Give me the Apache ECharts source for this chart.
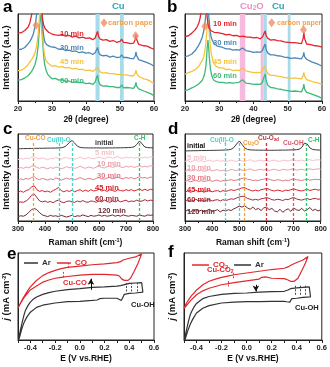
<!DOCTYPE html>
<html><head><meta charset="utf-8">
<script src="https://cdn.jsdelivr.net/npm/echarts@6/dist/echarts.min.js"></script>
<style>html,body{margin:0;padding:0;background:#fff}#c{width:330px;height:367px}</style>
</head><body><div id="c"></div>
<script>
const F = 'Arial, "Liberation Sans", Helvetica, sans-serif';

// ---------- Panel a: XRD (2theta, intensity a.u.) ----------
const xrdA_10 = [[20,78],[20.5,79.5],[21,78.5],[21.5,80],[22,81],[22.5,82.5],[23,85],[23.5,90],[24,99],[24.4,115],[24.8,150],[26.6,150],[26.9,112],[27.2,95],[27.5,88],[28,83],[28.5,81.5],[29,79],[29.5,79.5],[30,77],[30.5,78],[31,76],[31.5,77],[32,75.5],[33,76.5],[34,74.5],[35,75.5],[36,73.5],[37,74.5],[38,72.5],[39,73.5],[40,72],[41,72.5],[42,70.5],[42.7,72.5],[43.1,77],[43.4,80],[43.7,74],[44.2,71],[45,70],[46,70.5],[47,68.5],[48,69.5],[49,67.5],[50,68.5],[50.5,71],[51,67.5],[52,67],[53,66],[54,66.5],[54.5,71],[54.7,76],[54.9,71],[55.5,65],[56,65.5],[57,63.5],[58,63],[59,61],[60,59.5]];
const xrdA_30 = [[20,59],[20.5,60],[21,59.5],[21.5,61],[22,61.5],[22.5,63.5],[23,66],[23.5,68.5],[24,72],[24.5,77],[24.8,82],[25.2,91],[25.5,100],[25.8,130],[26.8,130],[27.1,95],[27.4,80],[27.7,71],[28,67],[28.5,64.5],[29,63],[29.5,62.5],[30,61],[31,61.5],[32,59.5],[33,60],[34,58],[35,58.5],[36,57],[37,57.5],[38,55.5],[39,56.5],[40,55],[41,55.5],[42,53.5],[42.7,55.5],[43.1,59],[43.4,61.5],[43.7,56],[44.2,53],[45,52],[46,52.5],[47,50.5],[48,51.5],[49,50],[50,50.5],[50.5,53],[51,50],[52,50],[53,49],[54,48.5],[54.5,52],[54.7,56.5],[54.9,52],[55.5,47.5],[56,47.5],[57,45.5],[58,44],[59,42.5],[60,40]];
const xrdA_45 = [[20,35],[20.5,36],[21,35.5],[21.5,37],[22,38],[22.5,40],[23,42],[23.5,44],[24,47.5],[24.5,51],[25,55],[25.4,62],[25.8,72],[26.1,85],[26.4,100],[26.6,115],[26.9,100],[27.2,78],[27.5,62],[27.8,53],[28.2,47],[28.7,44],[29.2,42],[30,40],[31,40.5],[32,39],[33,39.5],[34,38],[35,38.5],[36,37],[37,37.5],[38,36],[39,36.5],[40,35],[41,35.5],[42,34],[42.7,36],[43.1,39],[43.4,40.5],[43.7,36],[44.2,33.5],[45,32],[46,32.5],[47,31.5],[48,31.5],[49,30.5],[50,30.5],[50.5,32.5],[51,30],[52,30],[53,29],[54,29],[54.5,32],[54.7,35.5],[54.9,31.5],[55.5,28.5],[56,28],[57,25.5],[58,24.5],[59,22.5],[60,20]];
const xrdA_60 = [[20,24],[20.5,25],[21,24.5],[21.5,26],[22,26.5],[22.5,28],[23,29],[23.5,31],[24,34],[24.5,37.5],[25,42],[25.5,50],[25.9,62],[26.2,78],[26.5,92],[26.7,101],[26.9,92],[27.2,70],[27.5,54],[27.8,43],[28.2,36],[28.7,31],[29.2,28.5],[30,25.5],[31,26],[32,24],[33,24.5],[34,22.5],[35,23],[36,21.5],[37,22],[38,21],[39,21.5],[40,20],[41,20.5],[42,19],[42.7,22],[43.1,27],[43.4,29.5],[43.7,22],[44.2,18.5],[45,17],[46,17.5],[47,16.5],[48,16.5],[49,15.5],[50,15.5],[50.5,18.5],[51,15],[52,15.5],[53,15],[54,14.5],[54.5,18],[54.7,21.5],[54.9,17],[55.5,14],[56,13.5],[57,11.5],[58,10],[59,8.5],[60,6]];
const bandsCuA = [[42.8,44.0],[50.0,51.1]];
const carbonMarksA = [[25.3,87],[54.6,75],[45.3,90]];

// ---------- Panel b: XRD ----------
const xrdB_10 = [[20,74],[20.5,75.5],[21,75],[21.5,76.5],[22,78],[22.5,79.5],[23,82],[23.5,85],[24,89],[24.4,95],[24.7,103],[25,130],[26.1,130],[26.4,100],[26.7,88],[27,84],[27.5,81],[28,79.5],[28.5,79],[29,78],[29.5,78.5],[30,77],[31,77.5],[32,76],[33,76.5],[34,75],[35,75.5],[36,74],[37,74.5],[38,73.5],[39,73.5],[40,72.5],[41,73],[42,71.5],[42.7,74],[43.1,78],[43.4,80.5],[43.7,75],[44.2,72],[45,70],[46,70.5],[47,69.5],[48,69],[49,68],[50,67.5],[50.5,69.5],[51,67],[52,67],[53,66.5],[54,66],[54.5,72],[54.7,79],[54.9,72],[55.5,65.5],[56,65],[57,64.5],[58,63.5],[59,63],[60,62]];
const xrdB_30 = [[20,51],[20.5,52],[21,52],[21.5,53.5],[22,54],[22.5,56],[23,58],[23.5,61],[24,64],[24.5,68],[25,73],[25.4,79],[25.7,86],[26,96],[26.2,102],[26.5,106],[26.8,102],[27,95],[27.3,82],[27.6,74],[28,69.5],[28.5,66],[29,64],[29.5,63],[30,62],[31,61.5],[32,60],[33,60],[34,58.5],[35,59],[35.8,58.5],[36.3,60.5],[36.8,61],[37.3,60],[37.8,58],[39,57],[40,56],[41,56.5],[42,56],[42.6,58],[43.1,63],[43.4,65.5],[43.7,59],[44.2,55],[45,53],[46,53],[47,52],[48,51.5],[49,50.5],[50,50],[50.5,51.5],[51,49],[52,49.5],[53,49],[54,48.5],[54.5,52],[54.7,56],[54.9,51],[55.5,48],[56,47.5],[57,45],[58,43.5],[59,42],[60,40]];
const xrdB_45 = [[20,31],[20.5,32],[21,32.5],[21.5,33],[22,34],[22.5,35],[23,36],[23.5,38],[24,40],[24.5,43],[25,46],[25.5,51],[25.8,58],[26.1,67],[26.3,77],[26.5,88],[26.7,95],[26.9,88],[27.1,77],[27.4,63],[27.7,54],[28,49],[28.3,44],[28.7,42],[29,40],[29.5,39],[30,38],[31,38],[32,36],[33,36.5],[34,35],[35,35.5],[35.8,35],[36.3,37],[36.8,38],[37.3,37],[37.8,34.5],[39,33.5],[40,32.5],[41,33],[42,32.5],[42.6,35],[43.1,40],[43.4,42],[43.7,36],[44.2,31.5],[45,29.5],[46,29.5],[47,28.5],[48,28],[49,27],[50,26.5],[50.5,28],[51,26],[52,26.5],[53,26],[54,25.5],[54.5,29],[54.7,33],[54.9,28.5],[55.5,24.5],[56,24],[57,22.5],[58,21.5],[59,20.5],[60,19]];
const xrdB_60 = [[20,12],[20.5,13],[21,13],[21.5,14],[22,15],[22.5,16],[23,17],[23.5,18],[24,19.5],[24.5,21.5],[25,23.5],[25.4,27],[25.8,32.5],[26.1,40],[26.3,50],[26.5,62],[26.7,70],[26.9,62],[27.1,50],[27.4,38],[27.7,31],[28,27],[28.3,24.5],[28.7,23.5],[29,22.5],[29.5,22],[30,21.5],[31,21.5],[32,20.5],[33,21],[34,20.5],[35,21],[35.8,21.5],[36.3,23.5],[36.8,24.5],[37.3,23],[37.8,20.5],[39,20],[40,19],[41,19.5],[42,19],[42.6,21.5],[43.1,28],[43.4,31],[43.7,23],[44.2,18],[45,15.5],[46,15],[47,14],[48,13.5],[49,12.5],[50,12],[50.5,14],[51,11],[52,11.5],[53,11],[54,10.5],[54.5,15],[54.7,19.5],[54.9,14],[55.5,10],[56,9.5],[57,8],[58,6.5],[59,5],[60,3]];
const bandsCu2OB = [[36.0,37.6],[42.1,42.9]];
const bandsCuB = [[42.9,43.9],[50.0,50.8]];
const carbonMarksB = [[25.8,86],[54.6,82],[45.3,90]];

// ---------- Panels c, d: Raman ----------
const ramanX = [300,310,320,330,340,350,360,370,380,390,400,410,420,430,440,450,460,470,480,490,500,510,520,530,540,550,560,570,580,590,600,610,620,630,640,650,660,670,680,690,700,710,720,730,740,750,760,770,780,790,800];
const ramanC_init = [83,83.1,83.2,83.3,83.3,83.4,83.5,83.5,83.6,83.6,83.7,83.7,83.8,83.8,83.9,84,84.2,84.9,86.8,90.2,92.5,89.5,86,84.6,84.2,84.1,84,84,84,84,84,83.9,83.9,84,84,84,84.1,84.1,84.2,84.2,84.3,84.4,84.6,85.2,88,92,88.5,85,84.4,84.2,84.1];
const ramanC_5 = [70.5,72,71,72.5,71.5,73.5,74,72,71.5,72.5,71.5,70.5,72,71.5,73,72,71,72.5,73,71.5,72.5,71,72,73.5,72,71.5,73,72,71.5,72.5,73.5,72.5,71.5,73,73.5,72,73,74,72.5,72,73.5,72.5,73.5,72,73,74,72.5,73.5,72.5,74,73.5];
const ramanC_10 = [60,61.5,60.5,62,61,63,63.5,61.5,60.5,62,61,60,61.5,60.5,62,61.5,60,61,62.5,61,62,60.5,61.5,63,61.5,60.5,62,61.5,60.5,62,63,61.5,61,62.5,63,61.5,62.5,63.5,62,61.5,63,62,63,61.5,62.5,63.5,62,63,62,63.5,63];
const ramanC_30 = [47,48.5,47.5,49,48,50,51,48.5,47.5,49,48,47,48.5,47.5,49.5,48.5,47,48,49.5,48,49,47.5,48.5,50,48.5,47.5,49,48.5,47.5,49,50,48.5,48,49.5,50,48.5,49.5,50.5,49,48.5,50,49,50,48.5,49.5,51,49.5,50,49,50.5,50];
const ramanC_45 = [33,34.5,33,35,36,39,40.5,36,34,35,33.5,34.5,33,35,36.5,38.5,35,33.5,35,34,35.5,33.5,35,36,34,35.5,34,36,34.5,35,36.5,34.5,35.5,34,36,35,34,36,35,34.5,36,35,36,34.5,35.5,37,35,36.5,35,36.5,36];
const ramanC_60 = [21,22,21.5,23,25.5,29.5,31,27,23,22,23,21.5,22.5,21,23,24,22,21,22.5,23,22,21.5,23,22,23.5,22,21.5,23,22.5,21.5,23,22,24,22.5,21.5,23,22,23.5,22,23,24,22,23,22.5,24,22.5,23,24.5,23,24,23.5];
const ramanC_120 = [5,6,5.5,7,10,13,14.5,13,9.5,7,6,5,6.5,5.5,6,5,6.5,5.5,4.5,5.5,6.5,5,6,5.5,7,6,5,6.5,5.5,6,7,5.5,6.5,5.5,6,7,5.5,6.5,5.5,7,6,5.5,6.5,6,5.5,7,6,5.5,7,6.5,7];
const ramanLinesC = [[358,91.5],[452,89.5],[502,89.5],[748,91.5]];

const ramanD_init = [80.5,80.6,80.7,80.8,80.8,80.9,81,81,81.1,81.1,81.2,81.2,81.3,81.4,81.5,81.6,81.8,82.5,84.5,88.5,92,88,84,82.3,81.8,81.6,81.5,81.5,81.4,81.4,81.4,81.3,81.3,81.3,81.4,81.4,81.5,81.5,81.6,81.7,81.8,82,82.4,84.5,89.5,88.5,84,82.3,81.8,81.6,81.5];
const ramanD_5 = [68.5,69.5,68,69,70,68.5,69.5,68,69,70,68.5,69,70,68.5,69.5,68,69,70,69,68.5,70,69,68.5,69.5,70.5,69,68.5,69.5,70,69,70,68.5,69.5,70,69,68.5,70,69.5,69,70,70.5,69,69.5,70,69,70,70.5,69.5,70,70.5,70];
const ramanD_10 = [57,58.5,57.5,58,59,57.5,58.5,57,58,59,57.5,58.5,59,57.5,58.5,57,58,59.5,58.5,58,59.5,58.5,58,59,60,58.5,58,59,59.5,58.5,59.5,58,59,59.5,58.5,58,59.5,59,58.5,59.5,60,58.5,59,59.5,58.5,59.5,60,59,59.5,60,59.5];
const ramanD_30 = [45.5,46.5,45,46,47,45.5,46.5,45.5,46,47,45.5,46.5,47,45.5,46.5,46,47,47.5,46.5,47,48,49,49.5,48,47.5,46.5,47,46.5,47.5,48,49,48,47,46.5,47.5,47,46,47,46.5,47.5,48.5,47.5,47,46.5,47.5,48,47,47.5,48,47.5,48];
const ramanD_45 = [33,34.5,33,34,35.5,33.5,34.5,33,34.5,35,33.5,34.5,35,33.5,35,34,35,36,35,36,37,38,38.5,36.5,35.5,34.5,35.5,34.5,36,36.5,37.5,36.5,35,34.5,35.5,35,34,35.5,35,36,37,36,35,34.5,35.5,36.5,35,36,36.5,35.5,36];
const ramanD_60 = [22.5,24,22.5,23.5,25,23,24,22.5,24,24.5,23,24,24.5,23,24.5,23.5,24.5,25.5,25,26.5,27.5,28.5,28,26,25,24,25,24,25.5,26,27,26,24.5,24,25,24.5,23.5,25,24.5,26,27,25.5,24.5,24,25,26,24.5,25.5,26,25,25.5];
const ramanD_120 = [11,12.5,10.5,12,13,11,12.5,10.5,12,13.5,11,12,13,10.5,12.5,11.5,13,12,14,15.5,17,16,17.5,15,13.5,16,13,14.5,12,15,16,13,14.5,11.5,10.5,13.5,10,12.5,14,11,15,13,12,14.5,11.5,13,15.5,12,13.5,11.5,13];
const ramanLinesD = [[450,91.5],[498,91.5],[520,86],[600,90],[700,86],[745,91.5]];

// ---------- Panels e, f: CV (E vs RHE, j a.u.) ----------
const cvE_Ar = [[-0.495,0],[-0.49,5],[-0.48,11.5],[-0.47,18],[-0.46,24],[-0.45,29.5],[-0.44,34],[-0.42,39.5],[-0.4,43.5],[-0.38,46.5],[-0.35,49.5],[-0.3,52.5],[-0.25,54.5],[-0.2,56],[-0.1,58],[0,59],[0.1,60.5],[0.2,61],[0.3,62],[0.33,62.5],[0.34,64.5],[0.4,65],[0.45,65.5],[0.5,66],[0.51,65],[0.51,55],[0.45,54],[0.4,53.5],[0.36,52.5],[0.345,48],[0.335,45.5],[0.32,47],[0.3,48],[0.2,48],[0.16,47.5],[0.14,46],[0.1,45.5],[0,44.5],[-0.1,44],[-0.2,42.5],[-0.3,40],[-0.35,37.5],[-0.4,32],[-0.43,26],[-0.45,20.5],[-0.47,12.5],[-0.48,7],[-0.49,2],[-0.495,0]];
const cvE_CO = [[-0.5,36.5],[-0.48,42.5],[-0.46,48],[-0.44,52.5],[-0.42,57],[-0.4,61],[-0.37,65.5],[-0.35,68.5],[-0.3,74],[-0.25,77.5],[-0.2,80],[-0.15,82],[-0.1,83.5],[0,85],[0.1,86.5],[0.2,87.5],[0.3,89],[0.33,90],[0.35,92],[0.4,94],[0.45,95.5],[0.5,99],[0.47,88],[0.44,79],[0.41,71],[0.39,68.5],[0.36,68.5],[0.34,70],[0.32,73.5],[0.3,74.5],[0.2,75.5],[0.1,75.5],[0,74.5],[-0.1,73],[-0.15,72],[-0.2,71],[-0.25,69],[-0.3,66.5],[-0.35,62],[-0.4,57.5],[-0.45,49],[-0.48,42],[-0.5,36.5]];
const cvF_CO2 = [[-0.5,36.5],[-0.48,42.5],[-0.46,47],[-0.44,51],[-0.42,54],[-0.4,57.5],[-0.37,61],[-0.35,63.5],[-0.3,67.5],[-0.25,70],[-0.2,72],[-0.15,73.5],[-0.1,75],[0,77],[0.1,79],[0.2,81],[0.3,82.5],[0.33,84],[0.36,86.5],[0.4,89],[0.45,92],[0.49,96],[0.5,97.5],[0.47,88.5],[0.44,79.5],[0.41,71],[0.38,67.5],[0.35,67.5],[0.33,69],[0.3,70.5],[0.2,71],[0.15,72.5],[0.12,72],[0.1,70],[0,68],[-0.1,66],[-0.2,63.5],[-0.3,59.5],[-0.35,56.5],[-0.4,52],[-0.45,45],[-0.5,36]];
const cvF_Ar = [[-0.495,0],[-0.49,5],[-0.48,11.5],[-0.47,18],[-0.46,24],[-0.45,29],[-0.44,32.5],[-0.42,38],[-0.4,42],[-0.37,45.5],[-0.35,47.5],[-0.3,50],[-0.2,52.5],[-0.1,53.5],[0,54],[0.1,55],[0.2,55.5],[0.3,56],[0.33,57.5],[0.35,59],[0.4,60],[0.45,60.5],[0.5,61],[0.51,60],[0.51,49.5],[0.45,49],[0.4,48],[0.36,47.5],[0.345,43.5],[0.335,42.5],[0.32,44],[0.3,44.5],[0.2,44.5],[0.1,44],[0,44],[-0.1,43.5],[-0.2,42.5],[-0.3,39.5],[-0.35,36.5],[-0.4,31],[-0.43,24],[-0.45,18],[-0.47,10.5],[-0.48,6],[-0.49,1],[-0.495,0]];
const peakMarksE_red = [[-0.13,72,79.6],[-0.09,82.7,88.5]];
const peakMarksE_blk = [[0.375,55.8,65.4],[0.42,55.8,65.4],[0.465,55.8,65.4]];
const arrowE = [0.09,57.7,70.5];
const peakMarksF_red = [[-0.146,61.5,69],[-0.106,71,77]];
const peakMarksF_blk = [[0.386,52,63.5],[0.425,52,63.5],[0.465,52,63.5]];
const arrowF = [0.074,63.5,55.8];

// ---------- styling ----------
const C = {red:'#e3262e', blue:'#4d87b5', yellow:'#f6c33d', green:'#3dba7a', teal:'#2fa8b2', pink:'#ef8cc3',
  orange:'#f0a040', cyan:'#3fd6cc', chg:'#2ec76a', dark:'#3a3a3a',
  s5:'#f4c3c9', s10:'#eba1aa', s30:'#df7a85', s45:'#d8232c', s60:'#a52c38', s120:'#6d2a31',
  cuo:'#d42e3e', cuoh:'#d85868', band:'#a6dbea', pband:'#f6bade', diamond:'#f08c6a', carbon:'#f2a24e', cvred:'#e0282e'};

const grids = [
  {left:18, top:14, width:136, height:87},
  {left:185, top:14, width:137, height:87},
  {left:18, top:134, width:135, height:87},
  {left:185, top:134, width:138, height:87},
  {left:18, top:253, width:136, height:87},
  {left:184, top:253, width:138, height:87}
].map(g => Object.assign({show:true, borderColor:'#222', borderWidth:1, backgroundColor:'transparent'}, g));

const tickLbl = {fontSize:7.5, fontWeight:'bold', color:'#222', fontFamily:F, margin:4};
const nameStyle = {fontSize:8.5, fontWeight:'bold', color:'#111', fontFamily:F, lineHeight:11,
  rich:{sup:{fontSize:5.5, fontWeight:'bold', color:'#111', fontFamily:F, verticalAlign:'top', lineHeight:6},
        it:{fontSize:9, fontStyle:'italic', fontWeight:'bold', color:'#111', fontFamily:F}}};
function xAx(i, min, max, interval, name, gap, extra) {
  return Object.assign({type:'value', gridIndex:i, min, max, interval, name, nameLocation:'middle', nameGap:gap,
    nameTextStyle:nameStyle,
    axisLine:{show:true, onZero:false, lineStyle:{color:'#222', width:1}},
    axisTick:{show:true, length:3, lineStyle:{color:'#222'}},
    minorTick:{show:true, splitNumber:2, length:2, lineStyle:{color:'#222'}},
    splitLine:{show:false}, axisLabel:tickLbl}, extra || {});
}
function yAx(i, name) {
  return {type:'value', gridIndex:i, min:0, max:100, name, nameLocation:'middle', nameGap:6, nameRotate:90,
    nameTextStyle:Object.assign({}, nameStyle, {fontSize:9.5}),
    axisLine:{show:true, onZero:false, lineStyle:{color:'#222', width:1}}, axisTick:{show:false}, axisLabel:{show:false}, splitLine:{show:false}};
}
const cvLabel = {formatter: v => { const r = Math.round(v*10); return r % 2 === 0 ? (r/10).toFixed(1) : ''; }};
const xAxes = [
  xAx(0,20,60,10,'2θ (degree)',11),
  xAx(1,20,60,10,'2θ (degree)',11),
  xAx(2,300,800,100,'Raman shift (cm{sup|-1})',16),
  xAx(3,300,800,100,'Raman shift (cm{sup|-1})',16),
  xAx(4,-0.5,0.6,0.1,'E (V vs.RHE)',13,{minorTick:{show:false}, axisLabel:Object.assign({}, tickLbl, cvLabel)}),
  xAx(5,-0.5,0.6,0.1,'E (V vs.RHE)',13,{minorTick:{show:false}, axisLabel:Object.assign({}, tickLbl, cvLabel)})
];
const jName = '{it|j} (mA cm{sup|-2})';
const yAxes = [yAx(0,'Intensity (a.u.)'), yAx(1,'Intensity (a.u.)'), yAx(2,'Intensity (a.u.)'), yAx(3,'Intensity (a.u.)'), yAx(4,jName), yAx(5,jName)];

function line(i, data, color, w, name, extra) {
  return Object.assign({type:'line', name, xAxisIndex:i, yAxisIndex:i, data, showSymbol:false, symbol:'none',
    lineStyle:{color, width:w}, itemStyle:{color}, animation:false, z:3, silent:true}, extra || {});
}
const zip = arr => ramanX.map((x, k) => [x, arr[k]]);
function bandSeries(i, bands, color) {
  return {type:'line', xAxisIndex:i, yAxisIndex:i, data:[], z:1, silent:true, animation:false,
    markArea:{silent:true, itemStyle:{color}, data:bands.map(b => [{xAxis:b[0]}, {xAxis:b[1]}])}};
}
function diamonds(i, pts) {
  return {type:'scatter', xAxisIndex:i, yAxisIndex:i, data:pts, symbol:'diamond', symbolSize:[7,9],
    itemStyle:{color:C.diamond}, z:5, silent:true, animation:false};
}
function dashLines(i, lines, colors) {
  return {type:'line', xAxisIndex:i, yAxisIndex:i, data:[], z:4, silent:true, animation:false,
    markLine:{silent:true, symbol:['none','none'], label:{show:false}, animation:false,
      data:lines.map((l, k) => [{coord:[l[0], 0], lineStyle:{color:colors[k], type:[3,2], width:1.3}}, {coord:[l[0], l[1]]}])}};
}
function vmarks(i, marks, color, w) {
  return {type:'line', xAxisIndex:i, yAxisIndex:i, data:[], z:4, silent:true, animation:false,
    markLine:{silent:true, symbol:['none','none'], label:{show:false}, animation:false,
      data:marks.map(m => [{coord:[m[0], m[1]], lineStyle:{color, type:[2,1.5], width:w}}, {coord:[m[0], m[2]]}])}};
}
function arrow(i, a) {
  return {type:'line', xAxisIndex:i, yAxisIndex:i, data:[], z:4, silent:true, animation:false,
    markLine:{silent:true, symbol:['none','arrow'], symbolSize:[5,6], label:{show:false}, animation:false,
      data:[[{coord:[a[0], a[1]], lineStyle:{color:'#111', type:'solid', width:1}}, {coord:[a[0], a[2]]}]]}};
}

const series = [
  bandSeries(0, bandsCuA, C.band),
  line(0, xrdA_60, C.green, 1.3), line(0, xrdA_45, C.yellow, 1.3), line(0, xrdA_30, C.blue, 1.3), line(0, xrdA_10, C.red, 1.3),
  diamonds(0, carbonMarksA),
  bandSeries(1, bandsCu2OB, C.pband), bandSeries(1, bandsCuB, C.band),
  line(1, xrdB_60, C.green, 1.3), line(1, xrdB_45, C.yellow, 1.3), line(1, xrdB_30, C.blue, 1.3), line(1, xrdB_10, C.red, 1.3),
  diamonds(1, carbonMarksB),
  line(2, zip(ramanC_init), C.dark, 1), line(2, zip(ramanC_5), C.s5, 1), line(2, zip(ramanC_10), C.s10, 1),
  line(2, zip(ramanC_30), C.s30, 1), line(2, zip(ramanC_45), C.s45, 1), line(2, zip(ramanC_60), C.s60, 1), line(2, zip(ramanC_120), C.s120, 1),
  dashLines(2, ramanLinesC, [C.orange, C.cyan, C.cyan, C.chg]),
  line(3, zip(ramanD_init), C.dark, 1), line(3, zip(ramanD_5), C.s5, 1), line(3, zip(ramanD_10), C.s10, 1),
  line(3, zip(ramanD_30), C.s30, 1), line(3, zip(ramanD_45), C.s45, 1), line(3, zip(ramanD_60), C.s60, 1), line(3, zip(ramanD_120), C.s120, 1),
  dashLines(3, ramanLinesD, [C.cyan, C.cyan, C.orange, C.cuo, C.cuoh, C.chg]),
  line(4, cvE_Ar, '#333', 1.2, 'Ar'), line(4, cvE_CO, C.cvred, 1.2, 'CO'),
  vmarks(4, peakMarksE_red, C.cvred, 0.9), vmarks(4, peakMarksE_blk, '#333', 0.9), arrow(4, arrowE),
  line(5, cvF_CO2, C.cvred, 1.2, 'CO2'), line(5, cvF_Ar, '#333', 1.2, 'Ar '),
  vmarks(5, peakMarksF_red, C.cvred, 0.9), vmarks(5, peakMarksF_blk, '#333', 0.9), arrow(5, arrowF)
];

const legTxt = {fontSize:8, fontWeight:'bold', fontFamily:F, padding:[0,0,0,-1],
  rich:{sub:{fontSize:5.5, fontWeight:'bold', fontFamily:F, color:C.cvred, verticalAlign:'bottom', lineHeight:10, padding:[3,0,0,0]}}};
const legend = [
  {left:19, top:254, icon:'rect', itemWidth:14, itemHeight:1.5, itemGap:6, selectedMode:false, textStyle:legTxt,
    data:[{name:'Ar', textStyle:{color:'#333'}}, {name:'CO', textStyle:{color:C.cvred}}]},
  {left:187, top:256, icon:'rect', itemWidth:17, itemHeight:1.5, itemGap:6, selectedMode:false, textStyle:legTxt,
    formatter: n => n === 'CO2' ? 'CO{sub|2}' : n.trim(),
    data:[{name:'CO2', textStyle:{color:C.cvred}}, {name:'Ar ', textStyle:{color:'#333'}}]}
];

function T(x, y, text, fill, size, opt) {
  const style = Object.assign({text, fill, font:`bold ${size}px ${F}`, textVerticalAlign:'middle', textAlign:'left',
    rich:{s:{fontSize:size*0.68, fontWeight:'bold', fontFamily:F, fill, verticalAlign:'bottom', padding:[size*0.35,0,0,0]}}}, opt || {});
  return {type:'text', x, y, style, silent:true, z:20};
}
const graphic = [
  T(3, 7, 'a', '#000', 17), T(167, 7, 'b', '#000', 17), T(3, 129, 'c', '#000', 17), T(168, 129, 'd', '#000', 17),
  T(7, 254, 'e', '#000', 17), T(168, 252, 'f', '#000', 17),
  // a
  T(112, 6.5, 'Cu', C.teal, 9.5), T(108, 23, 'carbon paper', C.carbon, 7.5, {width:46, overflow:'truncate', ellipsis:''}),
  T(60, 34, '10 min', C.red, 7.5), T(60, 48, '30 min', C.blue, 7.5), T(60, 62, '45 min', C.yellow, 7.5), T(60, 81, '60 min', C.green, 7.5),
  // b
  T(240, 6.5, 'Cu{s|2}O', C.pink, 9.5), T(272, 6.5, 'Cu', C.teal, 9.5), T(277, 23, 'carbon paper', C.carbon, 7, {width:45, overflow:'truncate', ellipsis:''}),
  T(213, 24, '10 min', C.red, 7.5), T(213, 43, '30 min', C.blue, 7.5), T(213, 62, '45 min', C.yellow, 7.5), T(213, 76, '60 min', C.green, 7.5),
  // c
  T(25, 138.5, 'Cu-CO', C.orange, 6.5), T(47, 140.5, 'Cu(II)-O', C.cyan, 6.5), T(134, 138.5, 'C-H', C.chg, 6.5),
  T(95, 143, 'initial', C.dark, 7), T(95, 153, '5 min', C.s5, 7.5), T(97, 164, '10 min', C.s10, 7.5), T(97, 176, '30 min', C.s30, 7.5),
  T(95, 188, '45 min', C.s45, 7.5), T(95, 199, '60 min', C.s60, 7.5), T(98, 211, '120 min', C.s120, 7.5),
  // d
  T(210, 140.5, 'Cu(II)-O', C.cyan, 6.5), T(243, 143, 'Cu{s|2}O', C.orange, 6.5), T(258, 138, 'Cu-O{s|ad}', C.cuo, 6.5),
  T(283, 143, 'Cu-OH', C.cuoh, 6.5), T(308, 140.5, 'C-H', C.chg, 6.5),
  T(187, 146.5, 'initial', '#111', 7), T(187, 158, '5 min', C.s5, 7.5), T(187, 168, '10 min', C.s10, 7.5), T(187, 177.5, '30 min', C.s30, 7.5),
  T(187, 190, '45 min', C.s45, 7.5), T(187, 200, '60 min', C.s60, 7.5), T(187, 211.5, '120 min', C.s120, 7.5),
  // e
  T(63, 283, 'Cu-CO', C.cvred, 7.5), T(131, 305, 'Cu-OH', '#222', 7.5),
  // f
  T(207, 270, 'Cu-CO{s|2}', C.cvred, 7.5), T(295, 308, 'Cu-OH', '#222', 7.5)
];

const chart = echarts.init(document.getElementById('c'), null, {renderer:'canvas', width:330, height:367});
chart.setOption({animation:false, backgroundColor:'#fff', grid:grids, xAxis:xAxes, yAxis:yAxes, series, legend, graphic,
  textStyle:{fontFamily:F}});
</script></body></html>
